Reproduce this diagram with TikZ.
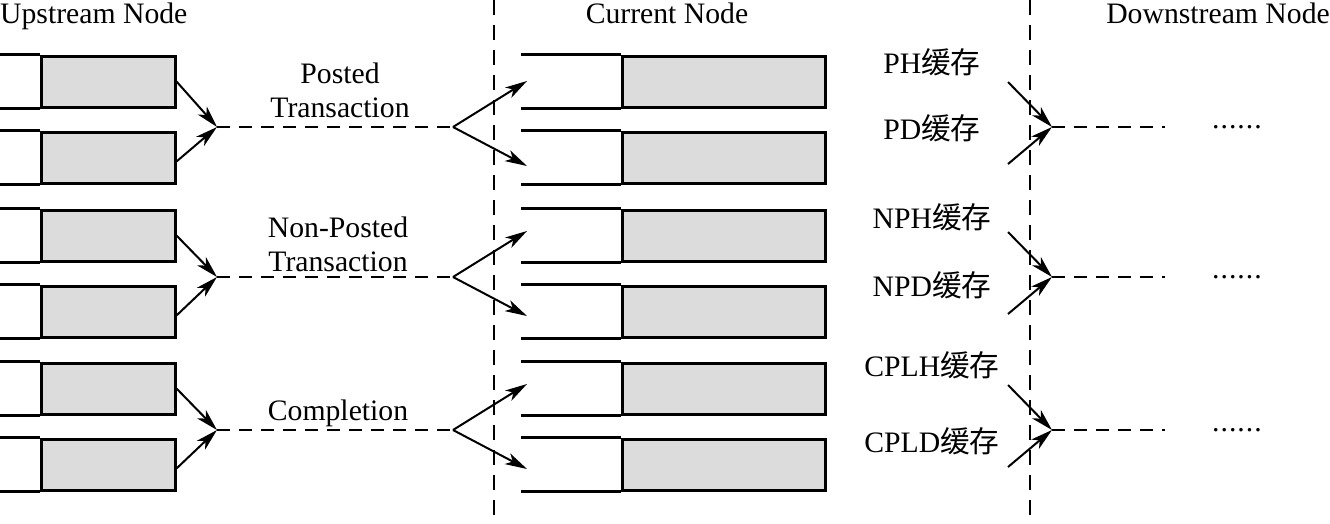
\documentclass[tikz,border=0pt]{standalone}
\usepackage{fontspec}
\setmainfont{Liberation Serif}
\newfontfamily\cjk{Noto Sans CJK SC}
\usetikzlibrary{arrows.meta}
\definecolor{bufgray}{RGB}{220,220,220}
\tikzset{
  buf/.style={draw, line width=3pt, fill=bufgray, inner sep=0pt, minimum height=51pt},
  bufline/.style={line width=3pt},
  arr/.style={line width=2pt, -{Stealth[length=22pt,width=12pt,inset=6pt]}},
  flow/.style={line width=1.8pt, dash pattern=on 13pt off 9pt},
  sepline/.style={line width=1.8pt, dash pattern=on 15pt off 10pt},
  txt/.style={font=\fontsize{29.7}{34}\selectfont, inner sep=0pt},
}
\begin{document}
\begin{tikzpicture}[x=1pt,y=-1pt]
\useasboundingbox (0,0) rectangle (1330,523);
% headers
\node[txt, anchor=base west] (hu) at (0,23) {Upstream Node};
\node[txt, anchor=base] (hc) at (667,23) {Current Node};
\node[txt, anchor=base east] (hd) at (1330,23) {Downstream Node};
% separators
\draw[sepline] (494,0) -- (494,523);
\draw[sepline] (1030,0) -- (1030,523);
% groups
\foreach \g/\tp/\my in {1/56/127,2/210/277,3/363/430}{
  \node[buf, minimum width=134pt] (ua\g) at (108,\tp+25.5) {};
  \node[buf, minimum width=134pt] (ub\g) at (108,\tp+101.5) {};
  \node[buf, minimum width=203pt] (ca\g) at (723.5,\tp+25.5) {};
  \node[buf, minimum width=203pt] (cb\g) at (723.5,\tp+101.5) {};
  \draw[bufline] (ua\g.north west) -- ++(-45,0) (ua\g.south west) -- ++(-45,0);
  \draw[bufline] (ub\g.north west) -- ++(-45,0) (ub\g.south west) -- ++(-45,0);
  \draw[bufline] (ca\g.north west) -- ++(-100,0) (ca\g.south west) -- ++(-100,0);
  \draw[bufline] (cb\g.north west) -- ++(-100,0) (cb\g.south west) -- ++(-100,0);
  \coordinate (m\g) at (217,\my);
  \coordinate (s\g) at (453,\my);
  \coordinate (ta\g) at (527,\my-46);
  \coordinate (tb\g) at (527,\my+39);
  \draw[arr] (ua\g.east) -- (m\g);
  \draw[arr] ([yshift=-4pt]ub\g.east) -- (m\g);
  \draw[flow] (m\g) -- (s\g);
  \draw[arr] (s\g) -- (ta\g);
  \draw[arr] (s\g) -- (tb\g);
  \coordinate (r\g) at (1052,\my);
  \coordinate (pa\g) at (1008,\my-45);
  \coordinate (pb\g) at (1008,\my+37);
  \coordinate (e\g) at (1165,\my);
  \draw[arr] (pa\g) -- (r\g);
  \draw[arr] (pb\g) -- (r\g);
  \draw[flow] (r\g) -- (e\g);
  \node[txt, anchor=base west] (dots\g) at (1212,\my+1) {.\kern1pt.\kern1pt.\kern1pt.\kern1pt.\kern1pt.};
}
% transaction labels
\node[txt, align=center, anchor=north] (lp) at (340,63) {Posted\\Transaction};
\node[txt, align=center, anchor=north] (lnp) at (338,217) {Non-Posted\\Transaction};
\node[txt, anchor=base] (lc) at (338,420) {Completion};
% buffer labels
\node[txt, anchor=base] (ph) at (932,73) {PH{\cjk 缓存}};
\node[txt, anchor=base] (pd) at (932,139) {PD{\cjk 缓存}};
\node[txt, anchor=base] (nph) at (932,228) {NPH{\cjk 缓存}};
\node[txt, anchor=base] (npd) at (932,296) {NPD{\cjk 缓存}};
\node[txt, anchor=base] (cplh) at (932,376) {CPLH{\cjk 缓存}};
\node[txt, anchor=base] (cpld) at (932,452) {CPLD{\cjk 缓存}};
\end{tikzpicture}
\end{document}
